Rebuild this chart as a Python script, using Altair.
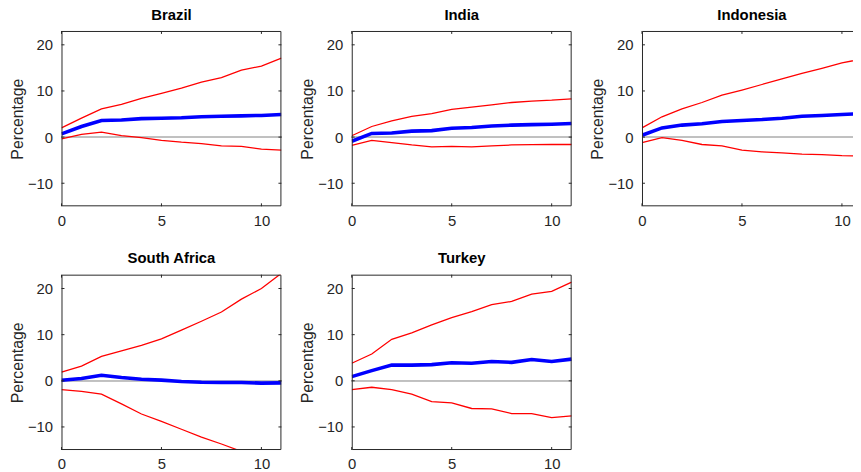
import altair as alt
import pandas as pd

horizon = list(range(12))

countries = ["Brazil", "India", "Indonesia", "South Africa", "Turkey"]

brazil_mid = [0.7, 2.3, 3.6, 3.7, 4.0, 4.1, 4.2, 4.4, 4.5, 4.6, 4.7, 4.9]
brazil_upper = [2.0, 4.1, 6.1, 7.1, 8.4, 9.5, 10.6, 11.9, 12.9, 14.5, 15.4, 17.1]
brazil_lower = [-0.4, 0.6, 1.1, 0.3, -0.1, -0.7, -1.1, -1.4, -1.9, -2.0, -2.6, -2.8]

india_mid = [-0.9, 0.8, 0.9, 1.3, 1.4, 1.9, 2.1, 2.4, 2.6, 2.7, 2.8, 2.95]
india_upper = [0.3, 2.3, 3.5, 4.5, 5.1, 6.0, 6.5, 7.0, 7.5, 7.8, 8.0, 8.3]
india_lower = [-1.8, -0.7, -1.2, -1.7, -2.1, -2.0, -2.1, -1.9, -1.7, -1.65, -1.6, -1.6]

indonesia_mid = [0.4, 2.0, 2.6, 2.9, 3.4, 3.6, 3.8, 4.1, 4.5, 4.7, 4.9, 5.1]
indonesia_upper = [2.0, 4.4, 6.1, 7.5, 9.1, 10.2, 11.4, 12.6, 13.8, 14.9, 16.1, 16.9]
indonesia_lower = [-1.2, -0.1, -0.7, -1.6, -1.9, -2.8, -3.2, -3.4, -3.7, -3.8, -4.0, -4.1]

safrica_mid = [0.1, 0.5, 1.2, 0.7, 0.35, 0.15, -0.15, -0.3, -0.35, -0.35, -0.5, -0.45]
safrica_upper = [1.9, 3.2, 5.3, 6.5, 7.7, 9.1, 11.0, 12.9, 14.9, 17.7, 20.0, 23.3]
safrica_lower = [-1.9, -2.3, -2.9, -5.0, -7.2, -8.8, -10.5, -12.2, -13.7, -15.3, -17.0, -18.6]

turkey_mid = [0.9, 2.2, 3.4, 3.4, 3.5, 3.9, 3.8, 4.2, 4.0, 4.6, 4.2, 4.7]
turkey_upper = [3.8, 5.8, 9.0, 10.4, 12.1, 13.7, 15.0, 16.5, 17.2, 18.8, 19.4, 21.4]
turkey_lower = [-1.9, -1.4, -1.9, -2.9, -4.5, -4.8, -6.0, -6.1, -7.1, -7.1, -8.0, -7.6]

series = {
    "Brazil": (brazil_lower, brazil_mid, brazil_upper),
    "India": (india_lower, india_mid, india_upper),
    "Indonesia": (indonesia_lower, indonesia_mid, indonesia_upper),
    "South Africa": (safrica_lower, safrica_mid, safrica_upper),
    "Turkey": (turkey_lower, turkey_mid, turkey_upper),
}

x_ticks = [0, 5, 10]
y_ticks = [-10, 0, 10, 20]
x_domain = [0, 11]
y_domain = [-15, 23]

W, H = 222, 177
FONT = "Liberation Sans"
TXT = "#262626"
FRAME = "#262626"

xscale = alt.Scale(domain=x_domain, nice=False, zero=False)
yscale = alt.Scale(domain=y_domain, nice=False, zero=False)
xaxis = alt.Axis(values=x_ticks, title=None, grid=False, ticks=False, domain=False,
                 labelFontSize=15, labelFont=FONT, labelColor=TXT, labelPadding=7,
                 labelFlush=False)
yaxis = alt.Axis(values=y_ticks, title="Percentage", grid=False, ticks=False, domain=False,
                 labelFontSize=15, labelFont=FONT, labelColor=TXT, labelPadding=9,
                 titleFontSize=16, titleFont=FONT, titleColor=TXT, titleFontWeight="normal",
                 titlePadding=2)


def panel(name):
    lower, mid, upper = series[name]
    df = pd.DataFrame({"h": horizon, "lower": lower, "mid": mid, "upper": upper})
    base = alt.Chart(df)
    zero = base.mark_rule(color="#c0c0c0", strokeWidth=1).encode(
        y=alt.Y("z:Q", scale=yscale, axis=yaxis),
        x=alt.value(0), x2=alt.value(W),
    ).transform_calculate(z="0")
    up = base.mark_line(color="#ff0000", strokeWidth=1.3, clip=True).encode(
        x=alt.X("h:Q", scale=xscale, axis=xaxis),
        y=alt.Y("upper:Q", scale=yscale, axis=yaxis),
    )
    lo = base.mark_line(color="#ff0000", strokeWidth=1.3, clip=True).encode(
        x=alt.X("h:Q", scale=xscale, axis=xaxis),
        y=alt.Y("lower:Q", scale=yscale, axis=yaxis),
    )
    md = base.mark_line(color="#0000ff", strokeWidth=3.6, clip=True).encode(
        x=alt.X("h:Q", scale=xscale, axis=xaxis),
        y=alt.Y("mid:Q", scale=yscale, axis=yaxis),
    )
    xt = pd.DataFrame({"t": x_ticks})
    yt = pd.DataFrame({"t": y_ticks})
    tb = alt.Chart(xt).mark_rule(color=FRAME, strokeWidth=1).encode(
        x=alt.X("t:Q", scale=xscale, axis=xaxis), y=alt.value(H), y2=alt.value(H - 3))
    tt = alt.Chart(xt).mark_rule(color=FRAME, strokeWidth=1).encode(
        x=alt.X("t:Q", scale=xscale, axis=xaxis), y=alt.value(0), y2=alt.value(3))
    tl = alt.Chart(yt).mark_rule(color=FRAME, strokeWidth=1).encode(
        y=alt.Y("t:Q", scale=yscale, axis=yaxis), x=alt.value(0), x2=alt.value(3))
    tr = alt.Chart(yt).mark_rule(color=FRAME, strokeWidth=1).encode(
        y=alt.Y("t:Q", scale=yscale, axis=yaxis), x=alt.value(W), x2=alt.value(W - 3))
    frame = alt.Chart(pd.DataFrame({"f": [0]})).mark_rect(
        fill=None, stroke=FRAME, strokeWidth=1).encode(
        x=alt.value(0.5), x2=alt.value(W - 0.5), y=alt.value(0.5), y2=alt.value(H - 0.5))
    return alt.layer(zero, up, lo, md, tb, tt, tl, tr, frame).properties(
        width=W, height=H,
        title=alt.TitleParams(name, fontSize=15, font=FONT, fontWeight="bold",
                              color="#000000", offset=8, anchor="middle"),
    )


panels = [panel(c) for c in countries]

chart = alt.concat(*panels, columns=3, spacing={"row": 69, "column": 71},
                   bounds="flush").properties(
    autosize=alt.AutoSizeParams(type="none"),
    padding={"left": 54, "top": 21, "right": 799, "bottom": 443},
    background="white",
).configure_view(strokeWidth=0, stroke=None)

chart.save("out.html", embed_options={"renderer": "svg", "actions": False})
